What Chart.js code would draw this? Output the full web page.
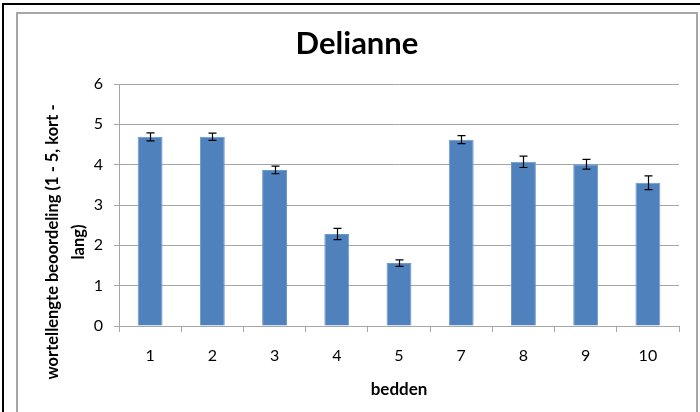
<!DOCTYPE html>
<html>
<head>
<meta charset="utf-8">
<script src="https://cdn.jsdelivr.net/npm/chart.js@4.4.1/dist/chart.umd.min.js"></script>
<style>
  html, body { margin: 0; padding: 0; background: #fff; }
  #wrap { position: relative; width: 700px; height: 412px; overflow: hidden; }
  #buiten { position: absolute; left: 2px; top: 3px; width: 760px; height: 460px; border-left: 2px solid #000; border-top: 2px solid #000; }
  #binnen { position: absolute; left: 16px; top: 12px; width: 682px; height: 460px; border: 2px solid #a6a6a6; box-sizing: border-box; }
  canvas { position: absolute; left: 0; top: 0; }
</style>
</head>
<body>
<div id="wrap">
  <div id="buiten"></div>
  <div id="binnen"></div>
  <canvas id="grafiek" width="700" height="412"></canvas>
</div>
<script>
// bedden en gemiddelde beoordeling wortellengte
const bedden = ['1', '2', '3', '4', '5', '7', '8', '9', '10'];
const beoordeling = [4.69, 4.69, 3.87, 2.28, 1.56, 4.62, 4.07, 4.01, 3.55];
const foutmarge = [0.10, 0.09, 0.095, 0.14, 0.08, 0.10, 0.14, 0.12, 0.17];
const yTitel = ['wortellengte beoordeling (1 - 5, kort -', 'lang)'];

// foutbalken tekenen
const foutbalken = {
    id: 'foutbalken',
    afterDatasetsDraw(chart) {
        const { ctx, scales: { x, y } } = chart;
        ctx.save();
        ctx.strokeStyle = '#000';
        ctx.lineWidth = 1.2;
        beoordeling.forEach(function (v, i) {
            const px = Math.round(x.getPixelForValue(i)) + 0.5;
            const boven = y.getPixelForValue(v + foutmarge[i]);
            const onder = y.getPixelForValue(v - foutmarge[i]);
            ctx.beginPath();
            ctx.moveTo(px, boven); ctx.lineTo(px, onder);
            ctx.moveTo(px - 4, boven); ctx.lineTo(px + 4, boven);
            ctx.moveTo(px - 4, onder); ctx.lineTo(px + 4, onder);
            ctx.stroke();
        });
        ctx.restore();
    }
};

// y-as titel over twee regels
const yAsTitel = {
    id: 'yAsTitel',
    afterDraw(chart) {
        const ctx = chart.ctx;
        const xs = [53, 79];
        ctx.save();
        ctx.font = 'bold 16.5px Lato';
        ctx.fillStyle = '#000';
        ctx.textAlign = 'center';
        ctx.textBaseline = 'middle';
        yTitel.forEach(function (t, i) {
            ctx.save();
            ctx.translate(xs[i], 242);
            ctx.rotate(-Math.PI / 2);
            ctx.fillText(t, 0, 0);
            ctx.restore();
        });
        ctx.restore();
    }
};

new Chart(document.getElementById('grafiek'), {
    type: 'bar',
    data: {
        labels: bedden,
        datasets: [{
            data: beoordeling,
            backgroundColor: '#4f81bd',
            borderColor: '#6e98cc',
            borderWidth: 1,
            barPercentage: 0.4,
            categoryPercentage: 1
        }]
    },
    options: {
        responsive: false,
        animation: false,
        devicePixelRatio: 1,
        layout: { padding: { left: 35, right: 21, top: 0, bottom: 0 } },
        plugins: {
            legend: { display: false },
            tooltip: { enabled: false },
            title: {
                display: true,
                text: 'Delianne',
                color: '#000',
                font: { family: 'Lato', size: 31, weight: 'bold', lineHeight: 1.2 },
                padding: { top: 25, bottom: 21.8 }
            }
        },
        scales: {
            x: {
                afterFit: function (scale) { scale.height = 86; },
                grid: { drawOnChartArea: false, color: '#a6a6a6', tickLength: 6, offset: true },
                border: { color: '#a6a6a6' },
                ticks: { color: '#000', font: { family: 'Lato', size: 16 }, padding: 14 },
                title: {
                    display: true,
                    text: 'bedden',
                    color: '#000',
                    font: { family: 'Lato', size: 17, weight: 'bold', lineHeight: 1.2 },
                    padding: { top: 0, bottom: 12 }
                }
            },
            y: {
                min: 0,
                max: 6,
                afterFit: function (scale) { scale.width = 84; },
                grid: { color: '#a6a6a6', tickLength: 5 },
                border: { color: '#a6a6a6' },
                ticks: { stepSize: 1, color: '#000', font: { family: 'Lato', size: 16 }, padding: 11 }
            }
        }
    },
    plugins: [foutbalken, yAsTitel]
});
</script>
</body>
</html>
